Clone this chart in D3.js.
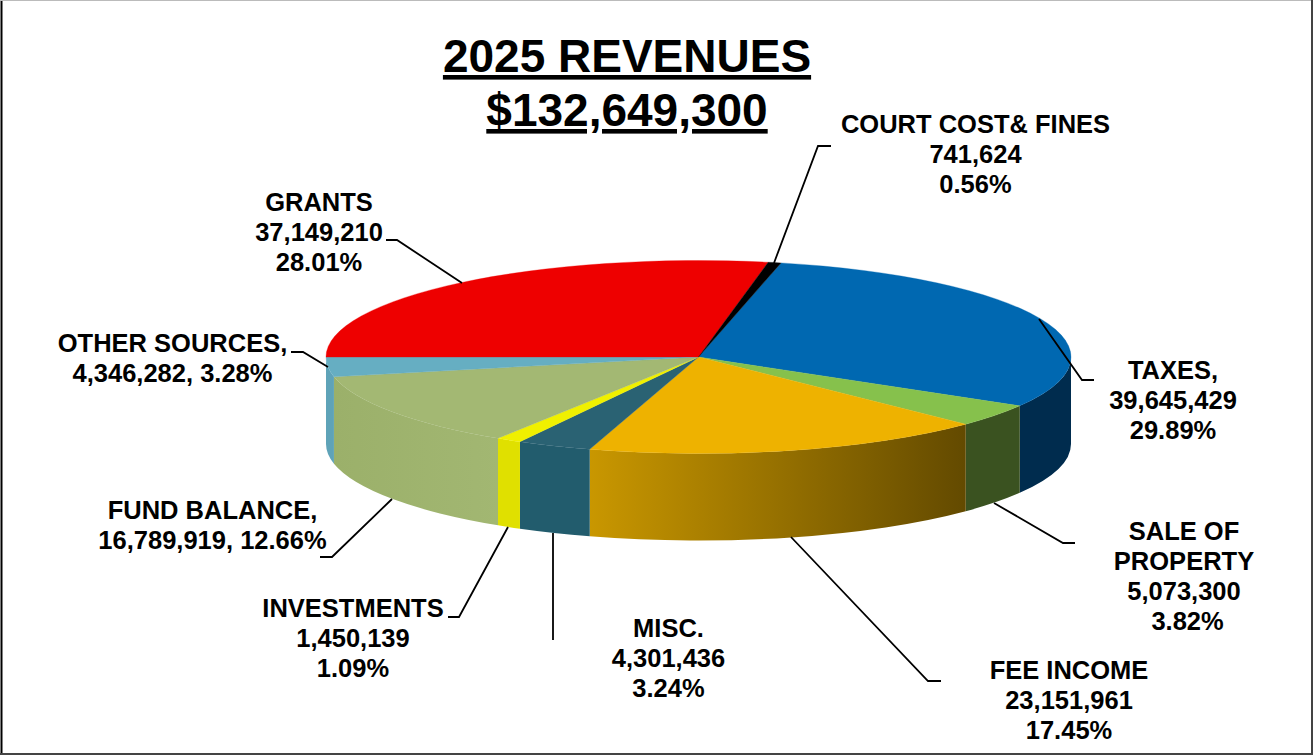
<!DOCTYPE html>
<html>
<head>
<meta charset="utf-8">
<style>
  html, body { margin: 0; padding: 0; background: #fff; }
  svg { display: block; }
  text { font-family: "Liberation Sans", Arial, sans-serif; font-weight: bold; fill: #000; }
</style>
<script src="https://cdnjs.cloudflare.com/ajax/libs/d3/7.9.0/d3.min.js"></script>
</head>
<body>
<svg id="chart" width="1313" height="755"></svg>
<script>
// Revenue categories, clockwise from the start of the pie.
const categories = ["TAXES", "SALE OF PROPERTY", "FEE INCOME", "MISC.", "INVESTMENTS",
  "FUND BALANCE", "OTHER SOURCES", "GRANTS", "COURT COST& FINES"];
const amounts = [39645429, 5073300, 23151961, 4301436, 1450139, 16789919, 4346282, 37149210, 741624];
const percents = [29.89, 3.82, 17.45, 3.24, 1.09, 12.66, 3.28, 28.01, 0.56];
const titleLines = ["2025 REVENUES", "$132,649,300"];

// Face and wall colours per category.
const topColors = ["#0068b1", "#86c14c", "#eeb200", "#2a6273", "#f0f000", "#a3b873", "#66aec2", "#ee0000", "#000000"];
const wallFrom = ["#002c4e", "#3a5220", "#c99700", "#225c6d", "#e0e000", "#9bb06a", "#5fa3b8", "#c00000", "#000000"];
const wallTo = ["#002c4e", "#3a5220", "#634a00", "#225c6d", "#e0e000", "#a2b772", "#5fa3b8", "#c00000", "#000000"];

// Label text blocks, one string per line.
const labelLines = [
  ["TAXES,", "39,645,429", "29.89%"],
  ["SALE OF", "PROPERTY", "5,073,300", "\u00a03.82%"],
  ["FEE INCOME", "23,151,961", "17.45%"],
  ["MISC.", "4,301,436", "3.24%"],
  ["INVESTMENTS", "1,450,139", "1.09%"],
  ["FUND BALANCE,", "16,789,919, 12.66%"],
  ["OTHER SOURCES,", "4,346,282, 3.28%"],
  ["GRANTS", "37,149,210", "28.01%"],
  ["COURT COST& FINES", "741,624", "0.56%"]
];
const labelX = [1173, 1184, 1069, 668.5, 353, 212.5, 172.5, 319, 975.5];
const labelY = [379, 540, 679, 637, 617, 519, 352, 211, 133];
const leaders = [
  [[1039, 319], [1082, 380], [1094, 380]],
  [[994, 503], [1063, 543], [1075, 543]],
  [[791, 537], [928, 681], [941, 681]],
  [[553, 533], [553, 640]],
  [[508, 527], [459, 617], [448, 617]],
  [[392, 499], [332, 557], [320, 557]],
  [[328, 367], [303, 352], [291, 352]],
  [[462, 283], [397, 240], [386, 240]],
  [[774, 263], [818, 146], [831, 146]]
];

const svg = d3.select("#chart");
const defs = svg.append("defs");

// Pie geometry: elliptical top face with a wall dropped below it.
const cx = 698.5, cy = 357, rx = 372.5, ry = 96.5, depth = 87;
const startAngle = 12.8 * Math.PI / 180;

const pie = d3.pie().value(d => d).sort(null)
  .startAngle(startAngle).endAngle(startAngle + 2 * Math.PI);
const slices = pie(percents);

// Frame around the whole chart.
svg.append("line").attr("x1", 1.5).attr("x2", 1.5).attr("y1", 0).attr("y2", 755).attr("stroke", "#000").attr("stroke-width", 2);
svg.append("line").attr("x1", 0).attr("x2", 1313).attr("y1", 0.5).attr("y2", 0.5).attr("stroke", "#bbb").attr("stroke-width", 1);
svg.append("line").attr("x1", 1312).attr("x2", 1312).attr("y1", 0).attr("y2", 755).attr("stroke", "#444").attr("stroke-width", 2);
svg.append("line").attr("x1", 0).attr("x2", 1313).attr("y1", 754).attr("y2", 754).attr("stroke", "#444").attr("stroke-width", 2);

// Point on the top-face rim for a clockwise angle from 12 o'clock.
const rim = a => [cx + rx * Math.sin(a), cy - ry * Math.cos(a)];

// Wall of one slice, limited to the part of the rim that faces the viewer.
function wallPath(s) {
  const a0 = Math.max(s.startAngle, Math.PI / 2);
  const a1 = Math.min(s.endAngle, 3 * Math.PI / 2);
  if (a1 <= a0) return null;
  const [x0, y0] = rim(a0), [x1, y1] = rim(a1);
  return `M${x0},${y0}A${rx},${ry} 0 0 1 ${x1},${y1}L${x1},${y1 + depth}` +
    `A${rx},${ry} 0 0 0 ${x0},${y0 + depth}Z`;
}

const walls = svg.append("g");
slices.forEach((s, i) => {
  const d = wallPath(s);
  if (!d) return;
  const a0 = Math.max(s.startAngle, Math.PI / 2), a1 = Math.min(s.endAngle, 3 * Math.PI / 2);
  const grad = defs.append("linearGradient").attr("id", "wall" + i)
    .attr("gradientUnits", "userSpaceOnUse")
    .attr("x1", rim(a1)[0]).attr("x2", rim(a0)[0]).attr("y1", 0).attr("y2", 0);
  grad.append("stop").attr("offset", 0).attr("stop-color", wallFrom[i]);
  grad.append("stop").attr("offset", 1).attr("stop-color", wallTo[i]);
  walls.append("path").attr("d", d).attr("fill", `url(#wall${i})`);
});

// Top face: circular arcs squashed into the ellipse.
const arc = d3.arc().innerRadius(0).outerRadius(rx);
svg.append("g")
  .attr("transform", `translate(${cx},${cy}) scale(1,${ry / rx})`)
  .selectAll("path").data(slices).join("path")
  .attr("d", arc)
  .attr("fill", (d, i) => topColors[i])
  .attr("stroke", (d, i) => topColors[i])
  .attr("stroke-width", 0.5);

// Leader lines.
const line = d3.line();
svg.append("g").selectAll("path").data(leaders).join("path")
  .attr("d", line).attr("fill", "none").attr("stroke", "#000").attr("stroke-width", 1.8);

// Data labels.
const labels = svg.append("g").attr("font-size", 25.5);
categories.forEach((c, i) => {
  const t = labels.append("text").attr("text-anchor", "middle").attr("y", labelY[i]);
  labelLines[i].forEach((ln, j) => {
    t.append("tspan").attr("x", labelX[i]).attr("dy", j === 0 ? 0 : 30).text(ln);
  });
});

// Title.
const title = svg.append("text").attr("text-anchor", "middle")
  .attr("font-size", 46).attr("text-decoration", "underline");
titleLines.forEach((ln, j) => {
  title.append("tspan").attr("x", 627).attr("y", 72 + j * 54).text(ln);
});
</script>
</body>
</html>
